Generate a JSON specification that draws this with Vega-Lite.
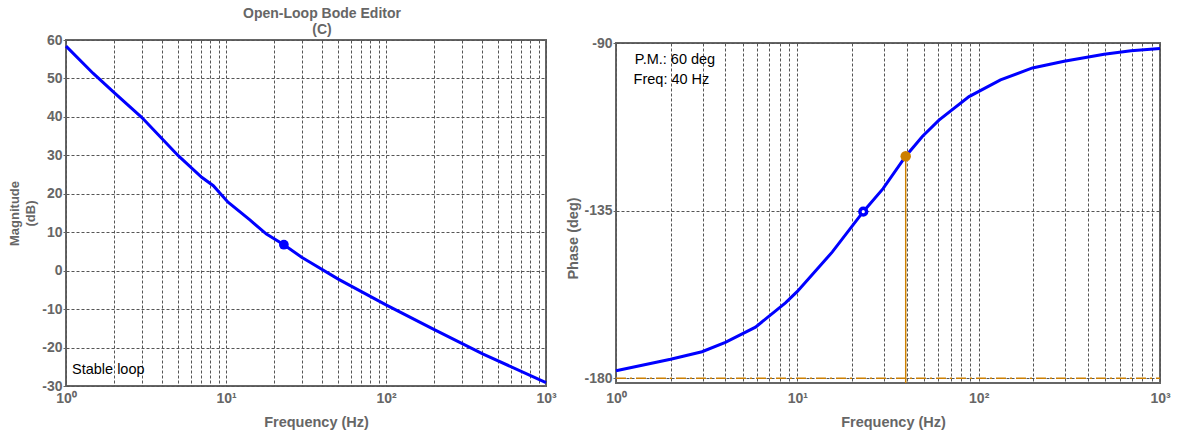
{
  "$schema": "https://vega.github.io/schema/vega-lite/v6.json",
  "background": "white",
  "autosize": {"type": "pad"},
  "padding": {"left": 7, "top": 6, "right": 5, "bottom": 5},
  "bounds": "flush",
  "center": true,
  "spacing": 70,
  "config": {
    "font": "Liberation Sans",
    "view": {"stroke": "#666666", "strokeWidth": 2},
    "axis": {
      "domain": false,
      "gridColor": "#555555",
      "gridDash": [3, 2],
      "gridWidth": 1,
      "gridOpacity": 1,
      "labelColor": "#666666",
      "labelFont": "Liberation Sans",
      "labelFontWeight": "bold",
      "labelFontSize": 14,
      "titleColor": "#666666",
      "titleFont": "Liberation Sans",
      "titleFontWeight": "bold",
      "tickColor": "#666666"
    }
  },
  "datasets": {
    "mag": [
      {"f": 1, "v": 58.4},
      {"f": 1.48, "v": 51.3},
      {"f": 2.0, "v": 46.3},
      {"f": 2.97, "v": 39.9},
      {"f": 5.03, "v": 29.9},
      {"f": 7.05, "v": 24.3},
      {"f": 8.33, "v": 22.1},
      {"f": 10.3, "v": 17.8},
      {"f": 14.1, "v": 13.2},
      {"f": 17.9, "v": 9.5},
      {"f": 23.0, "v": 6.75},
      {"f": 29.7, "v": 3.5},
      {"f": 33.5, "v": 2.2},
      {"f": 50.3, "v": -2.2},
      {"f": 100, "v": -8.9},
      {"f": 197.6, "v": -15.2},
      {"f": 405, "v": -21.7},
      {"f": 1000, "v": -29.1}
    ],
    "phase": [
      {"f": 1, "v": -178.0},
      {"f": 2.0, "v": -174.9},
      {"f": 2.98, "v": -172.9},
      {"f": 4.01, "v": -170.4},
      {"f": 5.88, "v": -166.3},
      {"f": 8.6, "v": -159.8},
      {"f": 10, "v": -156.7},
      {"f": 15.6, "v": -146.1},
      {"f": 23.1, "v": -135.3},
      {"f": 29.7, "v": -129.1},
      {"f": 39.6, "v": -120.4},
      {"f": 48.9, "v": -115.1},
      {"f": 60.4, "v": -110.7},
      {"f": 88.5, "v": -104.4},
      {"f": 132, "v": -99.9},
      {"f": 198, "v": -96.7},
      {"f": 296, "v": -94.9},
      {"f": 492, "v": -93.0},
      {"f": 692, "v": -92.1},
      {"f": 1000, "v": -91.5}
    ]
  },
  "hconcat": [
    {
      "width": 480,
      "height": 346,
      "title": {
        "text": ["Open-Loop Bode Editor", "(C)"],
        "fontSize": 14,
        "fontWeight": "bold",
        "color": "#666666",
        "font": "Liberation Sans",
        "lineHeight": 16,
        "dx": 16,
        "offset": -4
      },
      "encoding": {
        "x": {
          "field": "f",
          "type": "quantitative",
          "scale": {"type": "log", "domain": [1, 1000], "nice": false},
          "axis": {
            "title": "Frequency (Hz)",
            "values": [1, 2, 3, 4, 5, 6, 7, 8, 9, 10, 20, 30, 40, 50, 60, 70, 80, 90, 100, 200, 300, 400, 500, 600, 700, 800, 900, 1000],
            "labelExpr": "datum.value == 1 ? '10⁰' : datum.value == 10 ? '10¹' : datum.value == 100 ? '10²' : datum.value == 1000 ? '10³' : ''",
            "ticks": false,
            "tickSize": 0,
            "labelOverlap": false,
            "labelFlush": false,
            "labelPadding": 5,
            "titleFontSize": 14.5,
            "titlePadding": 10,
            "titleX": 250
          }
        },
        "y": {
          "field": "v",
          "type": "quantitative",
          "scale": {"domain": [-30, 60], "nice": false, "zero": false},
          "axis": {
            "title": ["Magnitude", "(dB)"],
            "values": [-30, -20, -10, 0, 10, 20, 30, 40, 50, 60],
            "labelExpr": "replace(datum.label, '−', '-')",
            "tickSize": 3,
            "labelPadding": 1,
            "titleFontSize": 13,
            "titleLineHeight": 16,
            "titlePadding": 4
          }
        }
      },
      "layer": [
        {
          "data": {"name": "mag"},
          "mark": {"type": "line", "color": "#0000ff", "strokeWidth": 3, "interpolate": "linear"}
        },
        {
          "data": {"values": [{"f": 23.0, "v": 6.75}]},
          "mark": {"type": "point", "shape": "circle", "filled": true, "color": "#0000ff", "size": 95, "opacity": 1}
        },
        {
          "data": {"values": [{"f": 1.09, "v": -26.9, "label": "Stable loop"}]},
          "mark": {"type": "text", "align": "left", "baseline": "alphabetic", "fontSize": 14.5, "color": "#000000", "font": "Liberation Sans"},
          "encoding": {"text": {"field": "label"}}
        }
      ]
    },
    {
      "width": 544,
      "height": 340,
      "encoding": {
        "x": {
          "field": "f",
          "type": "quantitative",
          "scale": {"type": "log", "domain": [1, 1000], "nice": false},
          "axis": {
            "title": "Frequency (Hz)",
            "values": [1, 2, 3, 4, 5, 6, 7, 8, 9, 10, 20, 30, 40, 50, 60, 70, 80, 90, 100, 200, 300, 400, 500, 600, 700, 800, 900, 1000],
            "labelExpr": "datum.value == 1 ? '10⁰' : datum.value == 10 ? '10¹' : datum.value == 100 ? '10²' : datum.value == 1000 ? '10³' : ''",
            "ticks": false,
            "tickSize": 0,
            "labelOverlap": false,
            "labelFlush": false,
            "labelPadding": 8,
            "titleFontSize": 14.5,
            "titlePadding": 10,
            "titleX": 277
          }
        },
        "y": {
          "field": "v",
          "type": "quantitative",
          "scale": {"domain": [-181.3, -90], "nice": false, "zero": false},
          "axis": {
            "title": "Phase (deg)",
            "values": [-180, -135, -90],
            "labelExpr": "replace(datum.label, '−', '-')",
            "tickSize": 3,
            "labelPadding": 1,
            "titleFontSize": 14.5,
            "titlePadding": 3,
            "titleY": 195
          }
        }
      },
      "layer": [
        {
          "data": {"values": [{"f": 1, "f2": 1000, "v": -180}]},
          "mark": {"type": "rule", "color": "#cc7f00", "strokeWidth": 1.5, "strokeDash": [10, 4, 2, 4]},
          "encoding": {"x2": {"field": "f2"}}
        },
        {
          "data": {"values": [{"f": 39.6, "v": -181.3, "v2": -120.4}]},
          "mark": {"type": "rule", "color": "#cc7f00", "strokeWidth": 1.5},
          "encoding": {"y2": {"field": "v2"}}
        },
        {
          "data": {"name": "phase"},
          "mark": {"type": "line", "color": "#0000ff", "strokeWidth": 3, "interpolate": "linear"}
        },
        {
          "data": {"values": [{"f": 23.1, "v": -135.3}]},
          "mark": {"type": "point", "shape": "circle", "filled": false, "fill": "#ffffff", "fillOpacity": 1, "stroke": "#0000ff", "strokeWidth": 3.5, "size": 45, "opacity": 1}
        },
        {
          "data": {"values": [{"f": 39.6, "v": -120.4}]},
          "mark": {"type": "point", "shape": "circle", "filled": true, "color": "#cc7f00", "size": 110, "opacity": 1}
        },
        {
          "data": {"values": [{"f": 1.27, "v": -94.6, "label": "P.M.: 60 deg"}, {"f": 1.25, "v": -100.0, "label": "Freq: 40 Hz"}]},
          "mark": {"type": "text", "align": "left", "baseline": "middle", "fontSize": 14.5, "color": "#000000", "font": "Liberation Sans"},
          "encoding": {"text": {"field": "label"}}
        }
      ]
    }
  ]
}
